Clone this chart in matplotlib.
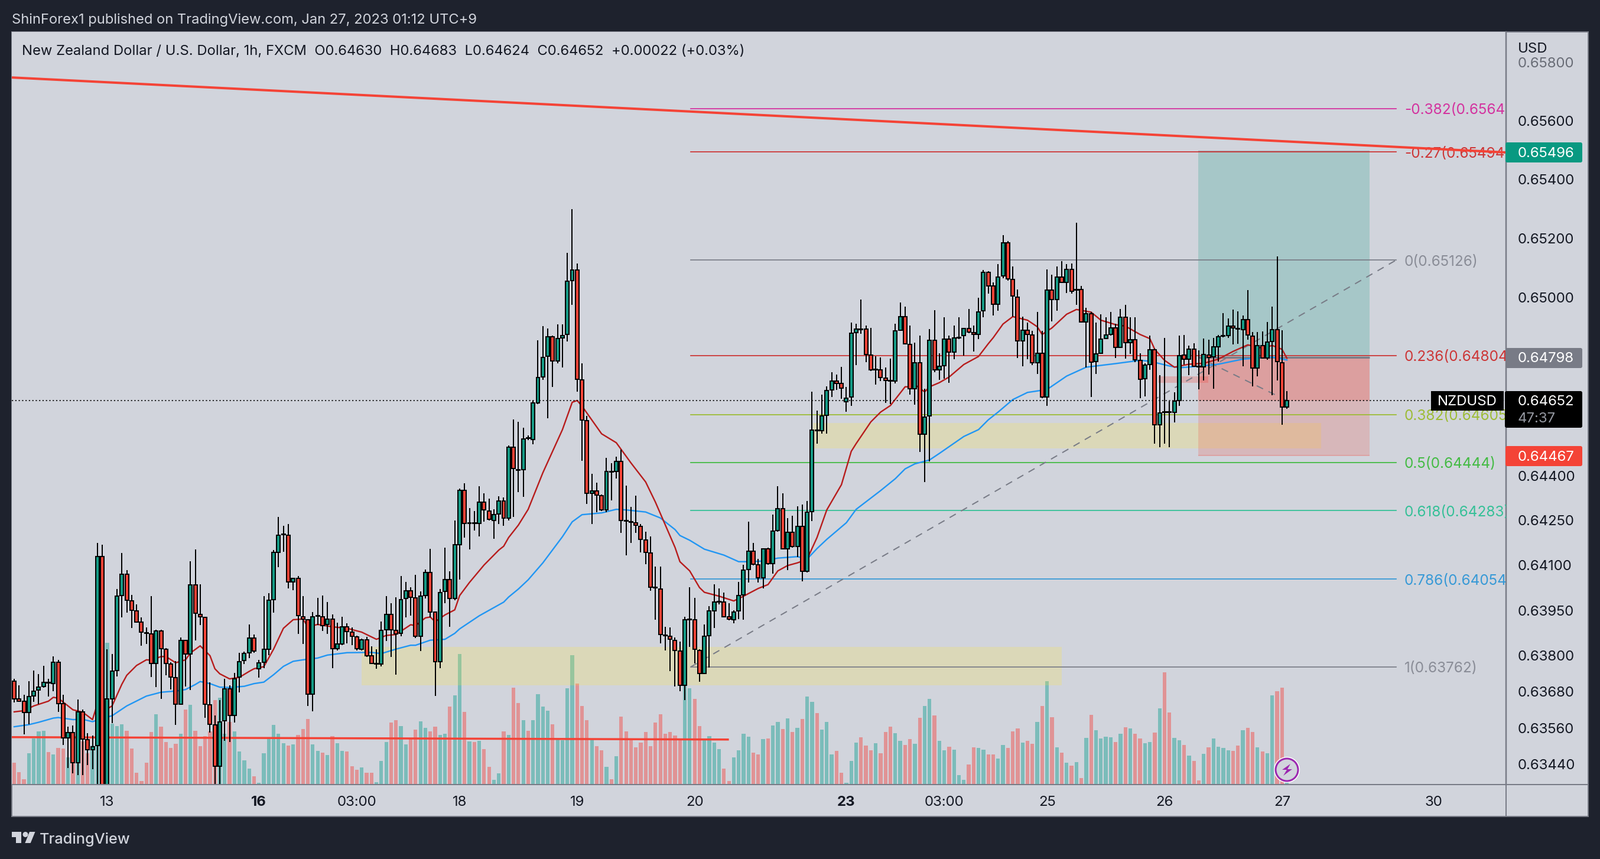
import math
import matplotlib
matplotlib.use("Agg")
import matplotlib.pyplot as plt
from matplotlib.patches import Rectangle, Circle, Polygon, FancyBboxPatch
from matplotlib.transforms import Affine2D, ScaledTranslation

# ---------- DATA (prices in units of 0.00001, read with an even ruler) ----------
highs = [63723,63700,63668,63715,63750,63739,63765,63723,63797,63786,
63668,63562,63565,63652,63618,63539,63531,64179,64174,63821,
63805,64024,64145,64087,64005,63973,63929,63895,64000,63888,
63887,63826,63778,63781,63862,63852,64118,64158,64039,63931,
63710,63598,63651,63723,63700,63742,63810,63813,63905,63871,
63786,64000,64010,64155,64266,64237,64243,64060,64068,64000,
63923,63947,63994,64002,63981,63939,63910,63931,63908,63895,
63868,63858,63863,63831,63822,63914,64000,63976,63997,64068,
64047,64031,64071,64016,64089,64160,63947,64024,64164,64084,
64255,64362,64379,64296,64287,64369,64345,64329,64292,64336,
64332,64507,64595,64586,64566,64540,64658,64861,64909,64901,
64876,64914,64914,65154,65301,65119,64782,64606,64412,64382,
64342,64466,64448,64469,64492,64371,64300,64337,64243,64216,
64200,64099,64099,63897,63895,63862,63848,63931,64031,63994,
63821,63905,63966,64039,64026,64013,63976,63952,64047,64105,
64250,64179,64125,64160,64164,64274,64369,64345,64263,64271,
64303,64308,64321,64687,64624,64677,64706,64753,64745,64770,
64704,64919,64915,64998,64911,64903,64806,64803,64769,64798,
64915,64988,64974,64911,64853,64877,64698,64898,64961,64816,
64938,64876,64911,64938,64901,64966,64911,65003,65096,65093,
65056,65117,65214,65194,65109,65032,64940,64919,64893,64955,
64893,65098,65080,65109,65126,65117,65119,65255,65043,64970,
64956,64919,64948,64938,64956,64915,64966,64980,64938,64938,
64816,64783,64876,64832,64744,64869,64656,64685,64876,64879,
64843,64851,64827,64867,64863,64868,64878,64952,64934,64963,
64958,64943,65029,64888,64888,64891,64922,64973,65143,64895,64689]

lows = [63642,63644,63536,63569,63644,63636,63692,63663,63681,63610,
63499,63423,63405,63399,63399,63433,63418,63250,63200,63200,
63573,63731,63929,63945,63892,63913,63834,63839,63728,63694,
63655,63734,63686,63568,63634,63697,63684,63852,63902,63592,
63541,63330,63340,63513,63510,63576,63676,63771,63792,63810,
63726,63757,63802,63945,64097,64150,64026,64021,63873,63839,
63631,63613,63902,63884,63873,63757,63818,63836,63842,63836,
63818,63818,63795,63771,63755,63763,63850,63795,63736,63865,
63929,63934,63860,63815,63992,63929,63665,63757,63976,63897,
63987,64055,64197,64158,64221,64200,64250,64255,64192,64243,
64237,64255,64266,64350,64334,64524,64511,64645,64727,64598,
64703,64782,64769,64856,64980,64687,64455,64311,64242,64283,
64287,64282,64322,64395,64213,64138,64179,64213,64147,64108,
64018,63921,63842,63818,63747,63697,63681,63650,63829,63773,
63713,63739,63760,63892,63973,63929,63919,63908,63923,63921,
64045,64103,64045,64026,64105,64075,64217,64158,64088,64164,
64132,64050,64079,64253,64513,64546,64546,64669,64693,64664,
64621,64640,64777,64882,64787,64758,64711,64724,64650,64645,
64716,64893,64847,64677,64643,64484,64384,64453,64753,64727,
64732,64718,64797,64864,64808,64885,64823,64864,64938,65017,
64943,64959,65069,65061,64940,64801,64772,64797,64777,64747,
64666,64640,64924,64959,65053,65019,65017,64980,64919,64769,
64669,64747,64814,64864,64877,64801,64835,64799,64814,64787,
64666,64671,64761,64513,64500,64513,64500,64585,64639,64778,
64744,64770,64695,64725,64745,64697,64788,64871,64868,64846,
64849,64773,64863,64705,64739,64798,64794,64676,64725,64576,64630]

opens = [63714,63655,63647,63609,63665,63684,63697,63710,63706,63778,
63639,63523,63541,63441,63611,63518,63484,63497,64134,63300,
63655,63750,64003,64074,63984,63950,63913,63877,63873,63773,
63884,63821,63771,63726,63636,63851,63805,64037,63939,63929,
63634,63568,63428,63581,63689,63598,63728,63784,63810,63860,
63755,63778,63822,63989,64147,64206,64205,64047,64060,63931,
63921,63671,63933,63931,63905,63923,63823,63839,63897,63879,
63864,63822,63854,63800,63771,63772,63888,63939,63885,63875,
63992,64018,63994,63865,64003,64079,63946,63780,64016,64056,
63992,64174,64355,64244,64246,64245,64316,64287,64255,64276,
64321,64263,64500,64426,64425,64532,64527,64650,64737,64806,
64872,64790,64869,64880,65061,65096,64727,64590,64345,64354,
64337,64290,64420,64419,64453,64255,64250,64246,64234,64189,
64145,64030,64024,63869,63865,63852,63815,63700,63921,63921,
63818,63740,63868,63950,63980,63981,63930,63921,63950,64004,
64089,64151,64105,64062,64160,64110,64221,64295,64160,64214,
64168,64234,64083,64284,64558,64557,64608,64693,64724,64715,
64654,64669,64886,64899,64898,64811,64761,64762,64733,64725,
64724,64895,64939,64847,64698,64785,64544,64606,64861,64761,
64774,64864,64820,64869,64876,64901,64887,64881,64959,65088,
65043,64982,65076,65189,65065,65006,64858,64894,64878,64785,
64816,64669,65030,64997,65072,65056,65098,65029,65032,64922,
64949,64789,64816,64866,64880,64902,64837,64938,64853,64862,
64793,64731,64779,64828,64577,64620,64620,64619,64658,64810,
64796,64830,64772,64770,64810,64804,64839,64874,64877,64908,
64901,64897,64929,64875,64767,64843,64800,64857,64897,64785,64636]

closes = [63655,63647,63609,63663,63681,63694,63710,63708,63778,63639,
63523,63541,63441,63611,63520,63484,63494,64134,63300,63655,
63747,64000,64074,63987,63952,63913,63879,63875,63773,63884,
63823,63773,63728,63636,63852,63806,64037,63942,63930,63636,
63570,63428,63577,63689,63598,63723,63780,63808,63860,63815,
63776,63821,63987,64147,64205,64208,64047,64060,63934,63923,
63671,63931,63935,63900,63923,63823,63839,63896,63881,63865,
63823,63854,63800,63773,63773,63885,63939,63887,63873,63989,
64018,63997,63865,64000,64079,63947,63780,64013,64056,63992,
64174,64355,64245,64246,64244,64316,64290,64258,64274,64321,
64263,64500,64429,64424,64529,64530,64649,64735,64803,64872,
64790,64866,64877,65060,65096,64729,64592,64345,64354,64340,
64290,64419,64418,64453,64255,64253,64248,64238,64191,64147,
64031,64028,63871,63867,63855,63818,63700,63921,63923,63821,
63740,63865,63950,63980,63982,63931,63922,63947,64002,64087,
64151,64108,64062,64160,64110,64218,64295,64160,64214,64168,
64234,64083,64282,64558,64556,64606,64691,64724,64715,64699,
64666,64885,64898,64897,64812,64762,64763,64735,64725,64723,
64893,64939,64849,64698,64785,64544,64603,64861,64761,64772,
64864,64820,64868,64871,64901,64889,64881,64956,65088,65044,
64982,65073,65189,65067,65009,64858,64894,64880,64785,64816,
64669,65030,64997,65072,65056,65098,65026,65031,64922,64949,
64787,64814,64864,64878,64902,64837,64938,64853,64862,64794,
64729,64777,64828,64577,64617,64618,64618,64656,64808,64796,
64830,64772,64770,64812,64802,64839,64873,64876,64908,64903,
64899,64929,64878,64767,64843,64800,64855,64897,64788,64635,64658]

volumes = [56,32,14,80,118,136,137,83,77,94,
92,70,70,110,110,80,100,150,130,362,
155,150,154,137,92,30,9,56,134,180,
148,109,94,104,130,192,204,137,98,124,
135,216,222,130,160,136,84,62,40,21,
4,80,118,152,130,106,100,102,126,142,
168,103,86,82,76,123,106,86,85,47,
38,43,30,30,6,60,109,158,165,150,
103,117,140,161,145,136,148,127,130,199,
228,333,186,110,108,112,91,45,12,29,
136,127,248,208,164,137,164,231,199,189,
154,118,113,246,330,258,201,164,114,98,
88,45,14,72,173,136,114,95,107,134,
98,158,180,130,134,125,118,260,246,219,
149,118,124,107,91,40,9,70,88,130,
122,82,77,116,118,151,160,142,169,134,
145,167,225,211,183,140,160,77,86,30,
5,60,107,121,100,88,106,80,134,148,
131,112,101,116,104,170,201,219,176,112,
88,97,89,24,12,51,95,94,89,77,
77,67,101,94,136,143,107,112,104,160,
201,264,172,95,81,56,48,57,17,119,
178,139,118,122,121,109,130,146,143,130,
118,106,109,133,195,287,184,119,113,101,
74,60,11,78,95,118,96,93,88,86,
100,138,145,134,95,84,80,228,238,247,10]

ema_fast_bar = [0,2,4,7,8,9,12,14,16,17,18,20,22,23,25,27,28,30,31,33,35,36,38,40,41,42,44,46,48,49,51,53,55,57,59,60,62,65,68,71,74,76,78,81,
82,84,85,86,88,90,91,93,96,99,100,101,103,105,108,112,114,115,116,120,123,126,129,131,135,136,138,140,141,144,147,149,152,154,156,158,160,161,162,164,166,
169,171,172,175,177,179,182,183,184,186,187,189,191,194,197,199,200,202,204,207,209,210,212,215,217,220,222,225,227,230,232,233,235,237,240,243,246,249,252,255,257,259,260]
ema_fast = [63611,63615,63631,63647,63660,63657,63618,63610,63585,63638,63611,63631,63704,63734,63767,63786,63785,63797,63797,63776,63786,63809,63833,63800,63756,63739,63722,63727,63747,63756,63763,63822,63892,63921,63923,63897,63905,63897,63892,63879,63855,63868,63871,63904,
63901,63927,63930,63914,63937,63954,64002,64046,64105,64155,64168,64197,64239,64292,64415,64560,64652,64658,64639,64546,64516,64448,64384,64316,64164,64116,64085,64029,64013,64000,63984,64000,64026,64039,64085,64103,64112,64118,64125,64197,64290,
64375,64487,64513,64586,64619,64641,64704,64704,64711,64687,64704,64718,64737,64779,64806,64849,64869,64915,64940,64928,64906,64880,64902,64948,64964,64955,64928,64913,64908,64880,64866,64830,64793,64770,64780,64783,64797,64823,64845,64834,64843,64830,64800]

ema_slow_bar = [0,3,5,8,9,12,14,16,18,20,23,27,30,33,35,37,38,40,42,44,47,49,51,53,55,57,59,62,64,68,73,75,78,81,
82,85,88,90,91,95,100,101,103,105,108,112,114,116,120,123,125,129,132,135,136,138,141,145,148,150,153,156,160,162,164,166,
170,172,177,180,182,184,187,189,194,197,199,201,204,207,211,215,219,225,230,232,236,238,242,246,251,257,260]
ema_slow = [63561,63568,63576,63590,63592,63585,63586,63578,63589,63598,63631,63664,63677,63681,63686,63703,63713,63706,63694,63693,63697,63706,63711,63736,63764,63781,63786,63792,63802,63810,63811,63807,63822,63835,
63835,63852,63855,63875,63890,63934,63980,63997,64024,64055,64112,64200,64250,64274,64280,64292,64290,64283,64263,64224,64204,64188,64158,64138,64116,64116,64118,64128,64133,64125,64160,64191,
64247,64292,64355,64395,64428,64445,64458,64480,64537,64560,64593,64619,64661,64685,64695,64740,64770,64782,64793,64790,64774,64768,64773,64780,64797,64804,64794]

fib_prices = [0.65642,0.65494,0.65126,0.64804,0.64605,0.64444,0.64283,0.64054,0.63762]
fib_labels = ["-0.382(0.65642)","-0.27(0.65494)","0(0.65126)","0.236(0.64804)","0.382(0.64605)",
              "0.5(0.64444)","0.618(0.64283)","0.786(0.64054)","1(0.63762)"]
fib_colors = ["#d42a9c","#cc2f2f","#787b86","#cc2f2f","#9bbb2e","#3cba3c","#2dbf94","#2f96d6","#787b86"]

price_ticks = [0.658,0.656,0.654,0.652,0.650,0.644,0.6425,0.641,0.6395,0.638,0.6368,0.6356,0.6344]
time_bars = [19,50,70,91,115,139,170,190,211,235,259,290]
time_labels = ["13","16","03:00","18","19","20","23","03:00","25","26","27","30"]
bold_times = ["16","23"]

last_close = 0.64652
entry, target, stop = 0.64798, 0.65496, 0.64467

W, H = 2708, 1454
BG = "#d1d4dc"; DARK = "#1e222d"; GRID = "#787b86"
UP = "#149a85"; DOWN = "#f44336"
VUP = "#26a69a"; VDOWN = "#ef5350"
FONT = "Inter"
PX = 0.72  # points per pixel at dpi 100

def read(v):
    """The chart's price scale is logarithmic; readings were taken with an even ruler."""
    return 0.65494 * math.exp(-(0.65494 - v) * 50346 / 32535)

def series(vals):
    return [read(v / 1e5) for v in vals]

plt.rcParams["font.family"] = FONT
fig = plt.figure(figsize=(W/100, H/100), dpi=100, facecolor=DARK)
T = Affine2D().scale(1, -1).translate(0, H)

def prect(x0, y0, x1, y1, **kw):
    r = Rectangle((x0, y0), x1-x0, y1-y0, transform=T, **kw)
    fig.add_artist(r)
    return r

def ptext(x, y, s, **kw):
    kw.setdefault("va", "center")
    return fig.text(x, y, s, transform=T, **kw)

prect(20, 54, 2688, 1382, facecolor=BG, edgecolor=GRID, lw=2*PX, zorder=-5)

L, R_, TOP, BOT = 20, 2549, 54, 1328
rect = [L/W, 1-BOT/H, (R_-L)/W, (BOT-TOP)/H]
ax_vol = fig.add_axes(rect, zorder=1)
ax = fig.add_axes(rect, zorder=2)
ax.patch.set_visible(False)
ax_vol.set_facecolor(BG)

PER_BAR = 8.285
xlim = ((L-24)/PER_BAR, (R_-24)/PER_BAR)
ax.set_yscale("log")
ax.set_xlim(*xlim); ax_vol.set_xlim(*xlim)
ax.set_ylim(0.63373, 0.65904)
ax_vol.set_ylim(0, 1921)
ax_vol.set_xticks([]); ax_vol.set_yticks([])
for s in ax_vol.spines.values():
    s.set_visible(False)

bars = list(range(len(closes)))
O, C, Hi, Lo = series(opens), series(closes), series(highs), series(lows)
up = [c >= o for o, c in zip(O, C)]

ax_vol.bar(bars, volumes, width=0.75, linewidth=0,
           color=[VUP if u else VDOWN for u in up], alpha=0.5)

# zones
yellow = dict(facecolor="#ffe838", alpha=0.22, linewidth=0, zorder=1)
def box(x0, x1, p0, p1, **kw):
    ax.add_patch(Rectangle((x0, p0), x1-x0, p1-p0, **kw))
box(71, 214, read(0.63701), read(0.63829), **yellow)
box(163.2, 267, read(0.64496), read(0.64582), **yellow)
box(233.7, 243.9, read(0.64718), read(0.64740), facecolor="#f44336", alpha=0.25, linewidth=0, zorder=1)
# position tool
POS_L, POS_R = 241.9, 276.9
box(POS_L, POS_R, entry, target, facecolor="#089981", alpha=0.21, linewidth=0, zorder=1)
box(POS_L, POS_R, stop, entry, facecolor="#f44336", alpha=0.2, linewidth=0, zorder=1)
box(POS_L, POS_R, last_close, entry, facecolor="#f44336", alpha=0.2, linewidth=0, zorder=1)
ax.plot([POS_L, POS_R], [entry, entry], color=GRID, lw=3*PX, zorder=2, solid_capstyle="butt")
ax.plot([POS_L, POS_R], [stop, stop], color="#f44336", alpha=0.25, lw=2*PX, zorder=2, solid_capstyle="butt")
ax.plot([POS_L, POS_R], [target, target], color=GRID, alpha=0.5, lw=2*PX, zorder=2, solid_capstyle="butt")
ax.plot([POS_L, 260], [entry, last_close], color=GRID, lw=2*PX, ls=(0, (6, 5)), zorder=3)

# trend lines
ax.plot([xlim[0], xlim[1]], [read(0.65744), read(0.65492)], color="#f44336", lw=4*PX, zorder=6, solid_capstyle="butt")
ax.plot([xlim[0], 146], [read(0.63526), read(0.63518)], color="#f44336", lw=3.5*PX, zorder=3, solid_capstyle="butt")

# fib
FIB_L, FIB_R = 138.2, 282.3
label_shift = ax.transData + ScaledTranslation(0, -3/100, fig.dpi_scale_trans)
for p, lab, col in zip(fib_prices, fib_labels, fib_colors):
    ax.plot([FIB_L, FIB_R], [p, p], color=col, lw=1.7*PX, zorder=3)
    ax.text(284, p, lab, color=col, fontsize=24.3*PX, va="center", ha="left", clip_on=True, zorder=3,
            alpha=0.8 if col == GRID else 0.95, transform=label_shift)
ax.plot([FIB_L, FIB_R], [fib_prices[-1], fib_prices[2]], color=GRID, lw=2*PX, ls=(0, (6, 5)), zorder=3)

# moving averages
ax.plot(ema_slow_bar, series(ema_slow), color="#2196f3", lw=2.4*PX, zorder=4)
ax.plot(ema_fast_bar, series(ema_fast), color="#b71c1c", lw=2.4*PX, zorder=4)

# last price line
ax.axhline(last_close, color="black", lw=1.6*PX, ls=(0, (1.4, 2.2)), zorder=4)

# candles
ax.vlines(bars, Lo, Hi, color="black", lw=2*PX, zorder=5)
ax.bar(bars, [abs(c-o) for o, c in zip(O, C)], bottom=[min(o, c) for o, c in zip(O, C)],
       width=0.72, color=[UP if u else DOWN for u in up], edgecolor="black", linewidth=2*PX, zorder=5.5)

# axes style
for k in ("top", "left", "bottom"):
    ax.spines[k].set_visible(False)
ax.spines["right"].set_color(GRID); ax.spines["right"].set_linewidth(2.5*PX)
ax.yaxis.tick_right()
ax.minorticks_off()
ax.set_yticks(price_ticks)
ax.set_yticklabels([f"{p:.5f}" for p in price_ticks], fontsize=24*PX, color="#131722")
ax.tick_params(axis="y", which="both", length=0, pad=20*PX)
ax.get_yticklabels()[0].set_alpha(0.55)
ax.set_xticks(time_bars)
ax.set_xticklabels(time_labels, fontsize=24*PX, color="#131722")
for t in ax.get_xticklabels():
    if t.get_text() in bold_times:
        t.set_fontweight("bold")
ax.tick_params(axis="x", length=0, pad=19.5*PX)

prect(20, BOT-1, 2688, BOT+1, facecolor=GRID, linewidth=0, zorder=3)
prect(2548, BOT, 2550, 1382, facecolor=GRID, linewidth=0, zorder=3)

# header
ptext(20, 34, "ShinForex1 published on TradingView.com, Jan 27, 2023 01:12 UTC+9", color=BG, fontsize=23.7*PX, ha="left")
ptext(37, 87, "New Zealand Dollar / U.S. Dollar, 1h, FXCM  O0.64630  H0.64683  L0.64624  C0.64652  +0.00022 (+0.03%)",
      color="#131722", fontsize=23.8*PX, ha="left", zorder=5)
ptext(2569, 83, "USD", color="#131722", fontsize=24*PX, ha="left", zorder=5)

# price tags
def tag(x0, y0, x1, y1, col):
    fig.add_artist(FancyBboxPatch((x0+3, y0+3), x1-x0-6, y1-y0-6, boxstyle="round,pad=3", transform=T,
                                  facecolor=col, linewidth=0, zorder=6))
tag(2548, 241, 2678, 275, "#089981")
ptext(2569, 260, "0.65496", color="white", fontsize=24*PX, ha="left", zorder=7)
tag(2548, 589, 2678, 623, GRID)
ptext(2569, 607, "0.64798", color="white", fontsize=24*PX, ha="left", zorder=7)
tag(2548, 755, 2678, 789, "#f44336")
ptext(2569, 774, "0.64467", color="white", fontsize=24*PX, ha="left", zorder=7)
prect(2422, 662, 2545, 695, facecolor="black", linewidth=0, zorder=6)
ptext(2483, 680, "NZDUSD", color="white", fontsize=24*PX, ha="center", zorder=7)
tag(2547, 662, 2678, 724, "black")
ptext(2569, 680, "0.64652", color="white", fontsize=24*PX, ha="left", zorder=7)
ptext(2569, 709, "47:37", color="#9598a1", fontsize=24*PX, ha="left", zorder=7)

# lightning icon
fig.add_artist(Circle((2178, 1303), 22, transform=T, facecolor="white", linewidth=0, zorder=7))
fig.add_artist(Circle((2178, 1303), 19, transform=T, facecolor=BG, edgecolor="#9c27b0", lw=3*PX, zorder=7))
fig.add_artist(Polygon([(2184, 1293), (2170, 1303), (2178, 1303), (2172, 1313), (2187, 1302), (2179, 1302)],
                       transform=T, facecolor="#9c27b0", linewidth=0, zorder=8))

# footer
ptext(67, 1421, "TradingView", color=BG, fontsize=25.3*PX, ha="left", fontweight="medium", zorder=7)
fig.add_artist(Polygon([(20, 1408), (36, 1408), (36, 1427), (27, 1427), (27, 1417), (20, 1417)],
                       transform=T, facecolor=BG, linewidth=0, zorder=7))
fig.add_artist(Circle((43, 1412.5), 4.5, transform=T, facecolor=BG, linewidth=0, zorder=7))
fig.add_artist(Polygon([(50, 1408), (59.5, 1408), (51.7, 1427), (42.3, 1427)], transform=T, facecolor=BG, linewidth=0, zorder=7))

fig.savefig("out.png", dpi=100, facecolor=DARK)
